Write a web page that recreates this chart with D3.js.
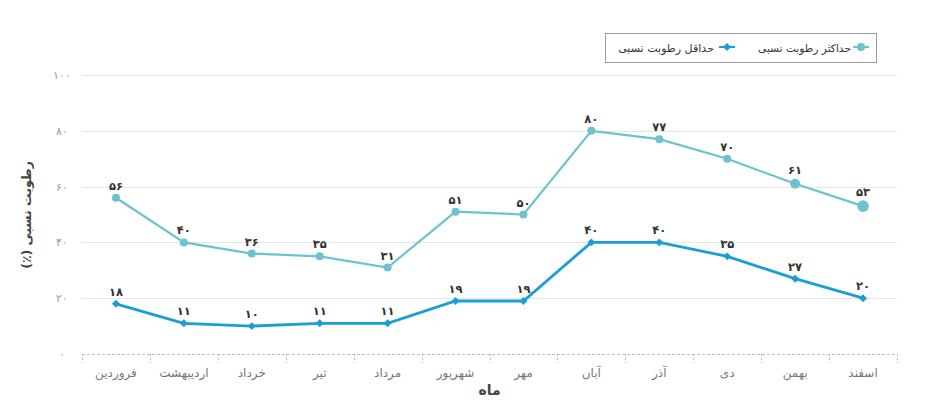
<!DOCTYPE html>
<html><head><meta charset="utf-8">
<script src="https://cdn.jsdelivr.net/npm/d3@7"></script>
<style>
html,body{margin:0;padding:0;background:#fff;}
svg{display:block;font-family:"DejaVu Sans","Noto Sans",sans-serif;}
</style></head>
<body>
<svg id="c" width="927" height="415"></svg>
<script>
const months = ["فروردین","اردیبهشت","خرداد","تیر","مرداد","شهریور","مهر","آبان","آذر","دی","بهمن","اسفند"];
const maxHumidity = [56,40,36,35,31,51,50,80,77,70,61,53];
const minHumidity = [18,11,10,11,11,19,19,40,40,35,27,20];
const yTicks = [0,20,40,60,80,100];
const seriesNames = ["حداکثر رطوبت نسبی","حداقل رطوبت نسبی"];
const yTitle = "رطوبت نسبی (٪)";
const xTitle = "ماه";

const fa = n => String(n).replace(/\d/g, d => "۰۱۲۳۴۵۶۷۸۹"[d]);
const svg = d3.select("#c");
const L = 82, R = 897, T = 75, B = 354;
const x = d3.scaleBand().domain(months).range([L, R]);
const y = d3.scaleLinear().domain([0,100]).range([B, T]);
const cx = m => x(m) + x.bandwidth()/2;

// grid
svg.append("g").selectAll("line").data(yTicks.filter(t=>t>0)).join("line")
  .attr("x1", L).attr("x2", R).attr("y1", d=>Math.round(y(d))+0.5).attr("y2", d=>Math.round(y(d))+0.5)
  .attr("stroke", "#e6e6e6").attr("stroke-width", 1);

// y axis labels
const yAxis = d3.axisLeft(y).tickValues(yTicks).tickFormat(fa).tickSize(0).tickPadding(14);
const gy = svg.append("g").attr("transform", `translate(${L},0)`).call(yAxis);
gy.select(".domain").remove();
gy.selectAll("text").attr("fill", "#9a9a9a").style("font-size", "11px").attr("text-anchor","middle").attr("dx", "-6");

// x axis
const gx = svg.append("g").attr("transform", `translate(0,${B})`);
gx.append("line").attr("x1", L).attr("x2", R).attr("y1", 0.5).attr("y2", 0.5)
  .attr("stroke", "#bbb").attr("stroke-dasharray", "3,2");
const bounds = months.map(m => x(m)).concat([R]);
gx.selectAll("line.tk").data(bounds).join("line").attr("class","tk")
  .attr("x1", d=>Math.round(d)+0.5).attr("x2", d=>Math.round(d)+0.5).attr("y1", 0).attr("y2", 9)
  .attr("stroke", "#bbb").attr("stroke-dasharray", "2,2");
gx.selectAll("text").data(months).join("text")
  .attr("x", d=>cx(d)).attr("y", 23).attr("text-anchor","middle")
  .attr("fill", "#777").style("font-size", "12px").text(d=>d);

// titles
svg.append("text").attr("x", (L+R)/2).attr("y", 395).attr("text-anchor","middle")
  .attr("fill","#444").style("font-size","14px").style("font-weight","bold").text(xTitle);
svg.append("text").attr("transform", "translate(31,215) rotate(-90)").attr("text-anchor","middle")
  .attr("direction","rtl").style("direction","rtl").style("unicode-bidi","embed")
  .attr("fill","#444").style("font-size","12.5px").style("font-weight","bold").text(yTitle);

const cMax = "#6cc3cf", cMin = "#1a9ed6";
const line = d3.line().x((d,i)=>cx(months[i])).y(d=>y(d));

// max series
svg.append("path").datum(maxHumidity).attr("d", line).attr("fill","none").attr("stroke", cMax).attr("stroke-width", 2.2);
svg.append("g").selectAll("circle").data(maxHumidity).join("circle")
  .attr("cx",(d,i)=>cx(months[i])).attr("cy", d=>y(d)).attr("r",(d,i)=> i===11?5.8:(i===10?5:4))
  .attr("fill", cMax);
svg.append("g").selectAll("text").data(maxHumidity).join("text")
  .attr("x",(d,i)=>cx(months[i])).attr("y",(d,i)=>y(d)-(i>=10?10:8)).attr("text-anchor","middle")
  .attr("fill","#333").style("font-size","11.5px").style("font-weight","bold").text(fa);

// min series
svg.append("path").datum(minHumidity).attr("d", line).attr("fill","none").attr("stroke", cMin).attr("stroke-width", 2.8);
const diamond = d3.symbol().type(d3.symbolDiamond2).size(40);
svg.append("g").selectAll("path").data(minHumidity).join("path")
  .attr("transform",(d,i)=>`translate(${cx(months[i])},${y(d)})`).attr("d", diamond).attr("fill", cMin);
svg.append("g").selectAll("text").data(minHumidity).join("text")
  .attr("x",(d,i)=>cx(months[i])).attr("y", d=>y(d)-8).attr("text-anchor","middle")
  .attr("fill","#333").style("font-size","11.5px").style("font-weight","bold").text(fa);

// legend
const lg = svg.append("g");
lg.append("rect").attr("x",605.5).attr("y",33.5).attr("width",271).attr("height",29)
  .attr("fill","#fff").attr("stroke","#999");
function fitText(sel, target){
  sel.style("font-size","12px");
  const w = sel.node().getComputedTextLength();
  if (w > 0) sel.style("font-size", Math.min(14, 12*target/w) + "px");
}
// item 1 (max)
lg.append("line").attr("x1",853).attr("x2",869).attr("y1",47).attr("y2",47).attr("stroke",cMax).attr("stroke-width",2);
lg.append("circle").attr("cx",861).attr("cy",47).attr("r",4).attr("fill",cMax);
const t1 = lg.append("text").attr("x",851).attr("y",52).attr("text-anchor","end").attr("fill","#333").text(seriesNames[0]);
fitText(t1, 93);
// item 2 (min)
lg.append("line").attr("x1",719).attr("x2",735).attr("y1",47).attr("y2",47).attr("stroke",cMin).attr("stroke-width",2);
lg.append("path").attr("transform","translate(727,47)").attr("d", diamond).attr("fill",cMin);
const t2 = lg.append("text").attr("x",714).attr("y",52).attr("text-anchor","end").attr("fill","#333").text(seriesNames[1]);
fitText(t2, 96);
</script>
</body></html>
